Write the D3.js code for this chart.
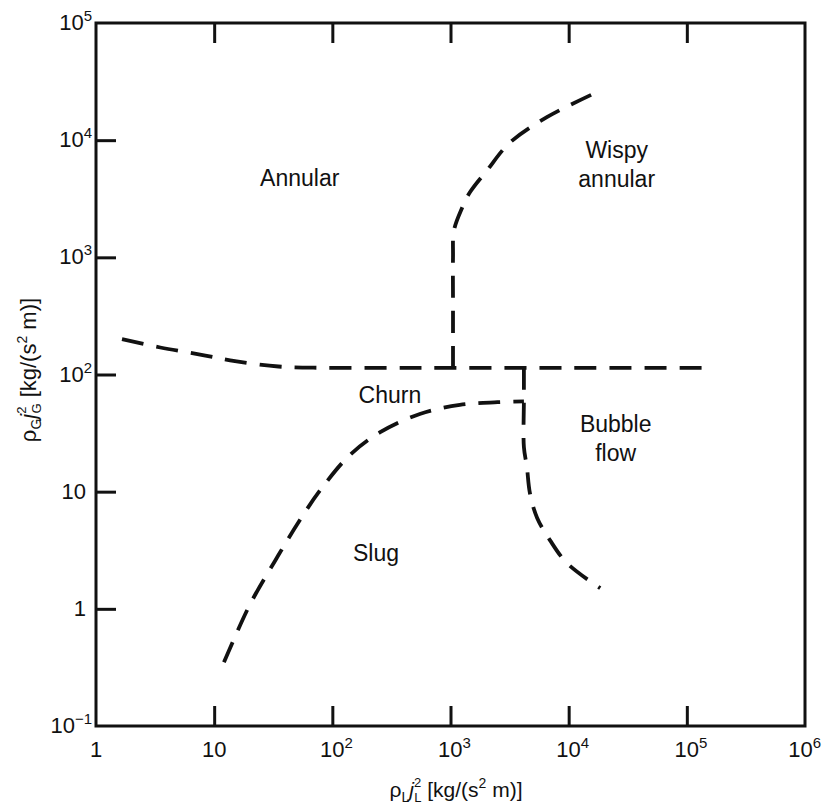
<!DOCTYPE html>
<html>
<head>
<meta charset="utf-8">
<script src="https://cdn.jsdelivr.net/npm/d3@7"></script>
<style>
  body { margin: 0; background: #fff; }
  svg text { font-family: "Liberation Sans", Arial, Helvetica, sans-serif; fill: #111; }
</style>
</head>
<body>
<svg id="chart" width="822" height="810"></svg>
<script>
// Flow-regime map boundaries: [rhoL*jL^2, rhoG*jG^2] in kg/(s^2 m)
const annularChurnBoundary = [
  [1.66, 200], [3.5, 170], [7.6, 148], [15, 130], [35, 117], [80, 114],
  [300, 114], [1000, 114], [4180, 114], [20000, 114], [142000, 114]
];
const wispyBoundary = [
  [1050, 114], [1050, 400], [1050, 1000], [1070, 1700], [1250, 2630],
  [1460, 3590], [2030, 5500], [3170, 9500], [6540, 15700], [18500, 26500]
];
const churnSlugBoundary = [
  [12.1, 0.35], [20, 1.08], [33, 2.6], [53, 5.7], [79, 10.3], [141, 20.6],
  [252, 32], [550, 46], [1200, 55], [2500, 58], [4180, 59]
];
const bubbleBoundary = [
  [4180, 114], [4180, 60], [4180, 24], [4430, 16.3], [4700, 9.7],
  [5400, 6.0], [6940, 3.86], [9660, 2.46], [18500, 1.5]
];

const xTickExponents = [0, 1, 2, 3, 4, 5, 6];
const yTickExponents = [-1, 0, 1, 2, 3, 4, 5];

// region names, anchored at their first baseline
const regionLabels = [
  { lines: ["Annular"], x: 53, y: 4050 },
  { lines: ["Wispy", "annular"], x: 25500, y: 7000 },
  { lines: ["Churn"], x: 307, y: 57 },
  { lines: ["Bubble", "flow"], x: 25000, y: 32 },
  { lines: ["Slug"], x: 234, y: 2.56 }
];

const svg = d3.select("#chart");
const margin = { left: 96, top: 23, right: 17, bottom: 84 };
const W = 822 - margin.left - margin.right;
const H = 810 - margin.top - margin.bottom;

const x = d3.scaleLog().domain([1, 1e6]).range([0, W]);
const y = d3.scaleLog().domain([0.1, 1e5]).range([H, 0]);

const g = svg.append("g").attr("transform", `translate(${margin.left},${margin.top})`);

// frame
g.append("rect").attr("x", 0).attr("y", 0).attr("width", W).attr("height", H)
  .attr("fill", "none").attr("stroke", "#111").attr("stroke-width", 3);

const tickLen = 20;
const xVals = xTickExponents.map(e => Math.pow(10, e));
const yVals = yTickExponents.map(e => Math.pow(10, e));

function styleAxis(sel) {
  sel.select(".domain").remove();
  sel.selectAll(".tick line").attr("stroke", "#111").attr("stroke-width", 3);
  sel.selectAll(".tick text").remove();
}

g.append("g").attr("transform", `translate(0,${H})`)
  .call(d3.axisBottom(x).tickValues(xVals.slice(1, -1)).tickSize(-tickLen).tickFormat(""))
  .call(styleAxis);
g.append("g")
  .call(d3.axisTop(x).tickValues(xVals.slice(1, -1)).tickSize(-tickLen).tickFormat(""))
  .call(styleAxis);
g.append("g")
  .call(d3.axisLeft(y).tickValues(yVals.slice(1, -1)).tickSize(-tickLen).tickFormat(""))
  .call(styleAxis);

// power-of-ten tick labels
function powerLabel(sel, e) {
  if (e === 0) { sel.text("1"); return; }
  sel.append("tspan").text("10");
  if (e !== 1) {
    sel.append("tspan").attr("dy", -9).attr("font-size", 15).text(String(e).replace("-", "\u2212"));
  }
}

xTickExponents.forEach(e => {
  const last = e === xTickExponents[xTickExponents.length - 1];
  const t = g.append("text")
    .attr("x", last ? W + 16 : x(Math.pow(10, e)) + (e > 1 ? 4 : 0))
    .attr("y", H + 31)
    .attr("text-anchor", last ? "end" : "middle")
    .attr("font-size", 22);
  powerLabel(t, e);
});

yTickExponents.forEach(e => {
  const t = g.append("text")
    .attr("x", e > 1 || e < 0 ? -4 : -10)
    .attr("y", y(Math.pow(10, e)) + 7)
    .attr("text-anchor", "end")
    .attr("font-size", 22);
  powerLabel(t, e);
});

// boundary curves
const line = d3.line()
  .x(d => x(d[0])).y(d => y(d[1]))
  .curve(d3.curveCatmullRom.alpha(0.5));

[annularChurnBoundary, wispyBoundary, churnSlugBoundary, bubbleBoundary].forEach(data => {
  g.append("path")
    .datum(data)
    .attr("d", line)
    .attr("fill", "none")
    .attr("stroke", "#111")
    .attr("stroke-width", 3.8)
    .attr("stroke-dasharray", "22,13");
});

// region labels
regionLabels.forEach(r => {
  const t = g.append("text")
    .attr("x", x(r.x)).attr("y", y(r.y))
    .attr("text-anchor", "middle")
    .attr("font-size", 23);
  r.lines.forEach((s, i) => {
    t.append("tspan").attr("x", x(r.x)).attr("dy", i === 0 ? 0 : 29).text(s);
  });
});

// axis titles: rho, phase subscript, j with stacked superscript 2 / subscript
function axisTitle(sel, phase) {
  sel.append("tspan").text("\u03C1");
  sel.append("tspan").attr("font-size", 14).attr("dy", 5).text(phase);
  sel.append("tspan").attr("font-style", "italic").attr("dy", -5).text("j");
  sel.append("tspan").attr("font-size", 13).attr("dy", -10).text("2");
  sel.append("tspan").attr("font-size", 13).attr("dx", -7).attr("dy", 15).text(phase);
  sel.append("tspan").attr("dy", -5).text(" [kg/(s");
  sel.append("tspan").attr("font-size", 14).attr("dy", -9).text("2");
  sel.append("tspan").attr("dy", 9).text(" m)]");
}

svg.append("text")
  .attr("x", 456).attr("y", 797)
  .attr("text-anchor", "middle")
  .attr("font-size", 21)
  .call(axisTitle, "L");

svg.append("text")
  .attr("transform", "translate(36,370) rotate(-90)")
  .attr("text-anchor", "middle")
  .attr("font-size", 22)
  .call(axisTitle, "G");
</script>
</body>
</html>
